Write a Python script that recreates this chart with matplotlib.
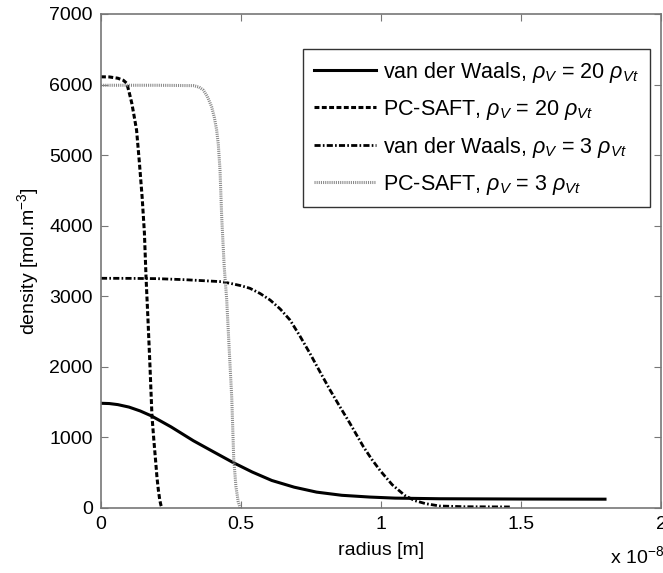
import numpy as np
import matplotlib
matplotlib.use("Agg")
import matplotlib.pyplot as plt

plt.rcParams['font.family'] = ['Liberation Sans', 'DejaVu Sans']
plt.rcParams['mathtext.fontset'] = 'custom'
plt.rcParams['mathtext.rm'] = 'Liberation Sans'
plt.rcParams['mathtext.it'] = 'Liberation Sans:italic'

# radius in units of 1e-8 m, density in mol/m^3
r_vdw20 = [0, 0.03, 0.06, 0.1, 0.14, 0.18, 0.25, 0.33, 0.4, 0.47, 0.54, 0.61, 0.69, 0.77, 0.86, 0.96, 1.05, 1.21, 1.5, 1.8]
d_vdw20 = [1484, 1480, 1465, 1430, 1375, 1305, 1150, 953, 800, 648, 510, 390, 295, 225, 180, 155, 140, 131, 127, 125]

r_pc20 = [0, 0.03, 0.06, 0.08, 0.092, 0.1, 0.11, 0.118, 0.127, 0.137, 0.147, 0.155, 0.161,
          0.168, 0.175, 0.182, 0.189, 0.195, 0.2, 0.205, 0.21, 0.214, 0.218]
d_pc20 = [6110, 6108, 6090, 6060, 6018, 5900, 5735, 5560, 5356, 4900, 4400, 3900, 3255,
          2650, 2002, 1305, 950, 671, 430, 250, 110, 40, 0]

r_vdw3 = [0, 0.1, 0.2, 0.3, 0.43, 0.461, 0.5, 0.532, 0.568, 0.604, 0.64, 0.675, 0.71, 0.746, 0.782,
          0.818, 0.854, 0.889, 0.937, 0.967, 0.997, 1.04, 1.085, 1.12, 1.16, 1.21, 1.3, 1.46]
d_vdw3 = [3255, 3254, 3250, 3235, 3207, 3184, 3150, 3113, 3040, 2947, 2820, 2664, 2440, 2192, 1930,
          1672, 1430, 1200, 869, 690, 530, 330, 178, 105, 61, 28, 18, 15]

r_pc3 = [0, 0.2, 0.33, 0.35, 0.365, 0.38, 0.395, 0.405, 0.413, 0.419, 0.425, 0.431, 0.44,
         0.449, 0.458, 0.467, 0.474, 0.482, 0.49, 0.497]
d_pc3 = [5990, 5990, 5985, 5965, 5923, 5830, 5687, 5530, 5356, 5150, 4790, 4128, 3420,
         2947, 2239, 1558, 700, 300, 90, 0]

labels = [r'van der Waals, $\rho_V$ = 20 $\rho_{Vt}$',
          r'PC-SAFT, $\rho_V$ = 20 $\rho_{Vt}$',
          r'van der Waals, $\rho_V$ = 3 $\rho_{Vt}$',
          r'PC-SAFT, $\rho_V$ = 3 $\rho_{Vt}$']

fig = plt.figure(figsize=(6.63, 5.73), dpi=100)
ax = fig.add_axes([101/663, 1-508/573, 560/663, 494/573])

ax.plot(r_vdw20, d_vdw20, color='black', lw=2.2, label=labels[0])
ax.plot(r_pc20, d_pc20, color='black', lw=2.2, dashes=(1.6, 0.8), label=labels[1])
ax.plot(r_vdw3, d_vdw3, color='black', lw=2.0, dashes=(2.2, 0.8, 0.6, 0.8), label=labels[2])
ax.plot(r_pc3, d_pc3, color='#8a8a8a', lw=2.2, dashes=(0.35, 0.35), label=labels[3])

ax.set_xlim(0, 2)
ax.set_ylim(0, 7000)
ax.set_xticks([0, 0.5, 1, 1.5, 2])
ax.set_xticklabels(['0', '0.5', '1', '1.5', '2'])
ax.set_yticks(range(0, 7001, 1000))
ax.tick_params(direction='in', top=True, right=True, length=5, color='#777777',
               labelsize=14, pad=6)
for s in ax.spines.values():
    s.set_color('#777777')
    s.set_linewidth(1.2)

ax.set_xlabel('radius [m]', fontsize=14, labelpad=6)
ax.set_ylabel(r'density [mol.m$^{-3}$]', fontsize=14, labelpad=6)
fig.text(610/663, 1-556/573, r'x 10$^{-8}$', fontsize=14, va='center', ha='left')

leg = ax.legend(loc='upper right', bbox_to_anchor=(650/663, 1-49/573),
                bbox_transform=fig.transFigure, fontsize=15.5, frameon=True,
                fancybox=False, handlelength=2.9, labelspacing=0.6,
                borderpad=0.5, handletextpad=0.35, borderaxespad=0)
leg.get_frame().set_edgecolor('black')
leg.get_frame().set_linewidth(1.0)

fig.savefig('out.png', dpi=100)
